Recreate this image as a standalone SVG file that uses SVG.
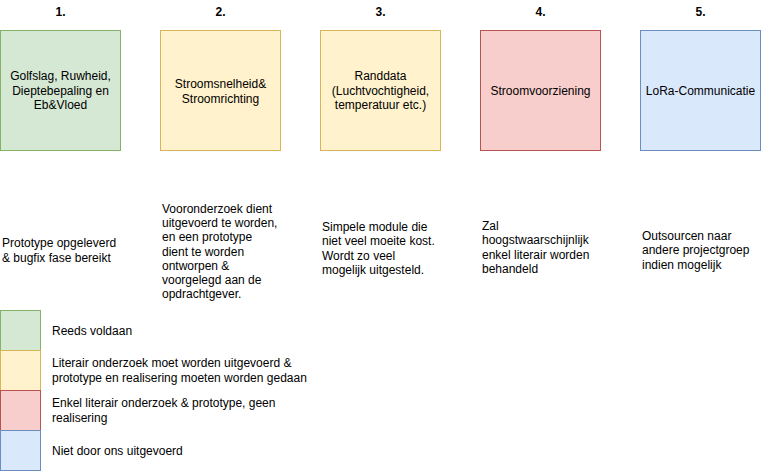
<svg xmlns="http://www.w3.org/2000/svg" width="761" height="471" viewBox="0 0 761 471">
<style>
text{font-family:"Liberation Sans",Arial,sans-serif;font-size:12px;fill:#000}
.t{font-weight:bold;text-anchor:middle}
.c{text-anchor:middle}
.g{fill:#d5e8d4;stroke:#82b366}
.y{fill:#fff2cc;stroke:#d6b656}
.r{fill:#f8cecc;stroke:#b85450}
.b{fill:#dae8fc;stroke:#6c8ebf}
</style>
<rect width="761" height="471" fill="#fff"/>
<g id="titles">
<text class="t" x="60.5" y="16">1.</text>
<text class="t" x="220.5" y="16">2.</text>
<text class="t" x="380.5" y="16">3.</text>
<text class="t" x="540.5" y="16">4.</text>
<text class="t" x="700.5" y="16">5.</text>
</g>
<g id="node1">
<rect class="g" x="0.5" y="30.5" width="120" height="120"/>
<text class="c" x="60.5" y="80">Golfslag, Ruwheid,</text>
<text class="c" x="60.5" y="94.5">Dieptebepaling en</text>
<text class="c" x="60.5" y="109">Eb&amp;Vloed</text>
</g>
<g id="node2">
<rect class="y" x="160.5" y="30.5" width="120" height="120"/>
<text class="c" x="220.5" y="88">Stroomsnelheid&amp;</text>
<text class="c" x="220.5" y="102.5">Stroomrichting</text>
</g>
<g id="node3">
<rect class="y" x="320.5" y="30.5" width="120" height="120"/>
<text class="c" x="380.5" y="80">Randdata</text>
<text class="c" x="380.5" y="94.5">(Luchtvochtigheid,</text>
<text class="c" x="380.5" y="109">temperatuur etc.)</text>
</g>
<g id="node4">
<rect class="r" x="480.5" y="30.5" width="120" height="120"/>
<text class="c" x="540.5" y="94.5">Stroomvoorziening</text>
</g>
<g id="node5">
<rect class="b" x="640.5" y="30.5" width="120" height="120"/>
<text class="c" x="700.5" y="94.5">LoRa-Communicatie</text>
</g>
<g id="desc1">
<text x="2" y="247">Prototype opgeleverd</text>
<text x="2" y="261.5">&amp; bugfix fase bereikt</text>
</g>
<g id="desc2">
<text x="162" y="213">Vooronderzoek dient</text>
<text x="162" y="227.2">uitgevoerd te worden,</text>
<text x="162" y="241.4">en een prototype</text>
<text x="162" y="255.6">dient te worden</text>
<text x="162" y="269.8">ontworpen &amp;</text>
<text x="162" y="284">voorgelegd aan de</text>
<text x="162" y="298.2">opdrachtgever.</text>
</g>
<g id="desc3">
<text x="322" y="231">Simpele module die</text>
<text x="322" y="245.3">niet veel moeite kost.</text>
<text x="322" y="259.6">Wordt zo veel</text>
<text x="322" y="273.9">mogelijk uitgesteld.</text>
</g>
<g id="desc4">
<text x="482" y="230">Zal</text>
<text x="482" y="244.3">hoogstwaarschijnlijk</text>
<text x="482" y="258.6">enkel literair worden</text>
<text x="482" y="272.9">behandeld</text>
</g>
<g id="desc5">
<text x="642" y="240">Outsourcen naar</text>
<text x="642" y="254.3">andere projectgroep</text>
<text x="642" y="268.6">indien mogelijk</text>
</g>
<g id="legend">
<rect class="g" x="0.5" y="310.5" width="40" height="40"/>
<rect class="y" x="0.5" y="350.5" width="40" height="40"/>
<rect class="r" x="0.5" y="390.5" width="40" height="40"/>
<rect class="b" x="0.5" y="430.5" width="40" height="40"/>
<text x="52" y="334.5">Reeds voldaan</text>
<text x="52" y="367">Literair onderzoek moet worden uitgevoerd &amp;</text>
<text x="52" y="381.5">prototype en realisering moeten worden gedaan</text>
<text x="52" y="407">Enkel literair onderzoek &amp; prototype, geen</text>
<text x="52" y="421.5">realisering</text>
<text x="52" y="454.5">Niet door ons uitgevoerd</text>
</g>
</svg>
